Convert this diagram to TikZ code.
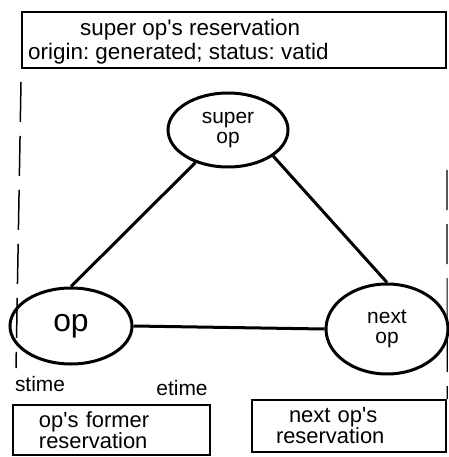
\documentclass[tikz,border=0pt]{standalone}
\usepackage{fontspec}
\setmainfont{Liberation Sans}
\usepackage{tikz}
\usetikzlibrary{shapes.geometric}
\frenchspacing

\begin{document}
\begin{tikzpicture}[x=1bp, y=-1bp]
    % Define the style for the nodes
    \tikzstyle{resbox} = [rectangle, draw, line width=2.4bp, inner ysep=0pt, font=\fontsize{22}{21}\selectfont]
    \tikzstyle{opnode} = [ellipse, draw, line width=3bp, inner sep=0pt, align=center, font=\fontsize{21}{20}\selectfont]
    \tikzstyle{line} = [draw, line width=3bp]
    \tikzstyle{timeline} = [draw, line width=1.5bp, dash pattern=on 40bp off 14bp]
    \tikzstyle{timelabel} = [font=\fontsize{21}{20}\selectfont, inner sep=0pt]

    \useasboundingbox (0,0) rectangle (449,457);

    % Place the nodes
    \node [resbox, minimum width=424bp, minimum height=56bp] (superres) at (234,40) {};
    \node [font=\fontsize{22.5}{24}\selectfont, align=left, anchor=west, inner sep=0pt] (superlabel) at (28,42) {\hspace*{52bp}super op\textquotesingle s reservation\\origin: generated; status: vatid};
    \node [opnode, minimum width=120bp, minimum height=74bp] (superop) at (228,130) {super\\op};
    \node [opnode, minimum width=122bp, minimum height=76bp, font=\fontsize{32}{32}\selectfont] (op) at (71,326) {op};
    \node [opnode, minimum width=122bp, minimum height=90bp] (nextop) at (387,329) {next\\op};
    \node [timelabel] (stime) at (40,384) {stime};
    \node [timelabel] (etime) at (182,388) {etime};
    \node [resbox, minimum width=197bp, minimum height=50bp, text width=145bp, inner xsep=26bp, align=left] (oldres) at (111.5,430) {op\textquotesingle s former\\reservation};
    \node [resbox, minimum width=194bp, minimum height=52bp, text width=146bp, inner xsep=24bp, align=left] (nextres) at (349,426) {\hspace*{13bp}next op\textquotesingle s\\reservation};
    \coordinate (stimetop) at (21,82);
    \coordinate (stimeend) at (16,368);
    \coordinate (etimetop) at (447,170);

    % Connect the nodes with paths
    \path [line] (superop.225) -- (op.north);
    \path [line] (superop.330) -- (nextop.north);
    \path [line] (op.east) -- (nextop.west);
    \path [timeline] (stimetop) -- (stimeend);
    \path [timeline, line width=1.2bp] (etimetop) -- (nextres.north east);
\end{tikzpicture}
\end{document}
